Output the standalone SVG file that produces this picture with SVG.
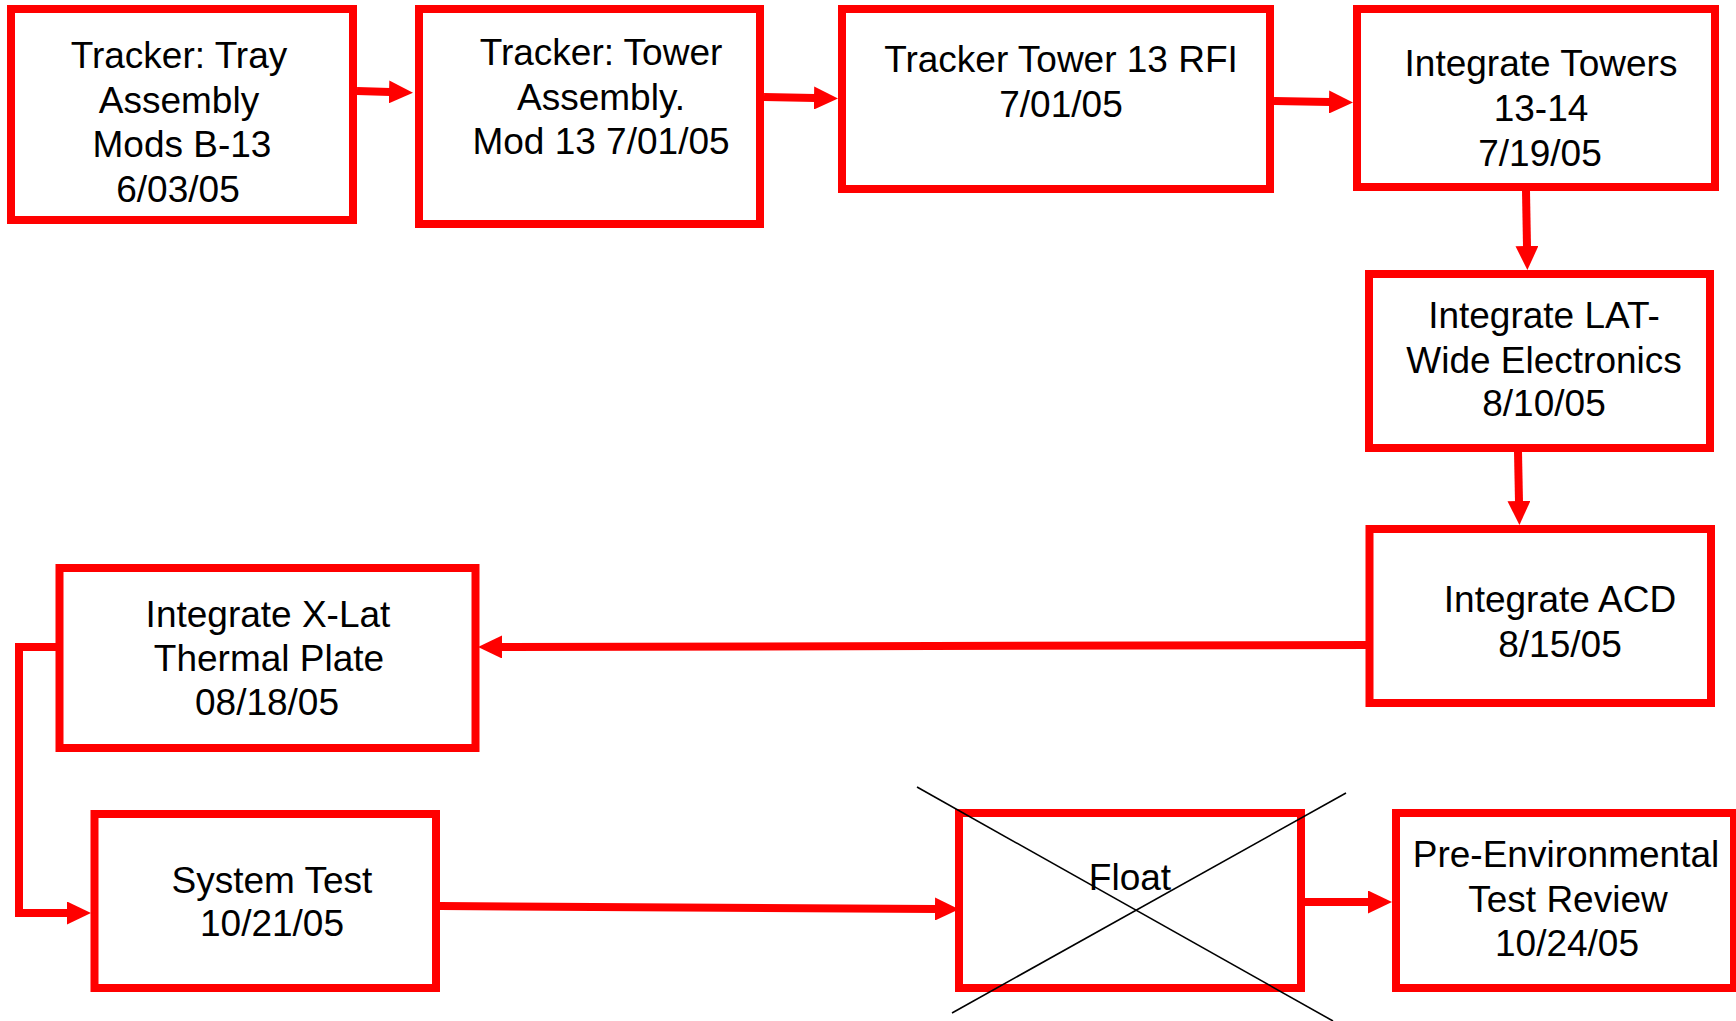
<svg xmlns="http://www.w3.org/2000/svg" width="1736" height="1021" viewBox="0 0 1736 1021">
<style>
.box{fill:#fff;stroke:#ff0000;stroke-width:8}
.lbl{font-family:"Liberation Sans",Arial,sans-serif;font-size:37px;fill:#000;text-anchor:middle}
.con{fill:none;stroke:#ff0000;stroke-width:8;stroke-linejoin:miter}
.x{stroke:#000;stroke-width:1.6;fill:none}
</style>
<defs>
<marker id="ah" markerUnits="userSpaceOnUse" viewBox="0 0 24 23" refX="1" refY="11.5" markerWidth="24" markerHeight="23" orient="auto">
<path d="M0,0 L24,11.5 L0,23 z" fill="#ff0000"/>
</marker>
</defs>
<rect width="1736" height="1021" fill="#fff"/>
<g id="n1"><rect class="box" x="11" y="9" width="342" height="211"/>
<text class="lbl"><tspan x="179" y="68">Tracker: Tray</tspan><tspan x="179" y="113">Assembly</tspan><tspan x="182" y="157">Mods B-13</tspan><tspan x="178" y="202">6/03/05</tspan></text></g>
<g id="n2"><rect class="box" x="419" y="9" width="341" height="215"/>
<text class="lbl"><tspan x="601" y="65">Tracker: Tower</tspan><tspan x="601" y="110">Assembly.</tspan><tspan x="601" y="154">Mod 13 7/01/05</tspan></text></g>
<g id="n3"><rect class="box" x="842" y="9" width="428" height="180"/>
<text class="lbl"><tspan x="1061" y="72">Tracker Tower 13 RFI</tspan><tspan x="1061" y="117">7/01/05</tspan></text></g>
<g id="n4"><rect class="box" x="1357" y="9" width="358" height="178"/>
<text class="lbl"><tspan x="1541" y="76">Integrate Towers</tspan><tspan x="1541" y="121">13-14</tspan><tspan x="1540" y="166">7/19/05</tspan></text></g>
<g id="n5"><rect class="box" x="1369" y="274" width="341" height="174"/>
<text class="lbl"><tspan x="1544" y="328">Integrate LAT-</tspan><tspan x="1544" y="373">Wide Electronics</tspan><tspan x="1544" y="416">8/10/05</tspan></text></g>
<g id="n6"><rect class="box" x="1369.5" y="529" width="341.5" height="174"/>
<text class="lbl"><tspan x="1560" y="612">Integrate ACD</tspan><tspan x="1560" y="657">8/15/05</tspan></text></g>
<g id="n7"><rect class="box" x="59.5" y="568" width="416" height="180"/>
<text class="lbl"><tspan x="268" y="627">Integrate X-Lat</tspan><tspan x="269" y="671">Thermal Plate</tspan><tspan x="267" y="715">08/18/05</tspan></text></g>
<g id="n8"><rect class="box" x="94.5" y="814" width="341.5" height="174"/>
<text class="lbl"><tspan x="272" y="893">System Test</tspan><tspan x="272" y="936">10/21/05</tspan></text></g>
<g id="n9"><rect class="box" x="959" y="813" width="342" height="175"/>
<text class="lbl" x="1130" y="890">Float</text>
<line class="x" x1="917" y1="787" x2="1333" y2="1021"/>
<line class="x" x1="1346" y1="793" x2="952" y2="1013"/></g>
<g id="n10"><rect class="box" x="1396" y="813" width="338" height="175"/>
<text class="lbl"><tspan x="1566" y="867">Pre-Environmental</tspan><tspan x="1568" y="912">Test Review</tspan><tspan x="1567" y="956">10/24/05</tspan></text></g>
<g id="connectors">
<path class="con" d="M357,91 L390,92" marker-end="url(#ah)"/>
<path class="con" d="M764,97 L815,98" marker-end="url(#ah)"/>
<path class="con" d="M1274,101 L1330,102" marker-end="url(#ah)"/>
<path class="con" d="M1526,191 L1527,247" marker-end="url(#ah)"/>
<path class="con" d="M1518,452 L1519,502" marker-end="url(#ah)"/>
<path class="con" d="M1366,645 L501,647" marker-end="url(#ah)"/>
<path class="con" d="M56,647 L19,647 L19,913 L68,913" marker-end="url(#ah)"/>
<path class="con" d="M440,906 L936,909" marker-end="url(#ah)"/>
<path class="con" d="M1305,902 L1369,902" marker-end="url(#ah)"/>
</g>
</svg>
